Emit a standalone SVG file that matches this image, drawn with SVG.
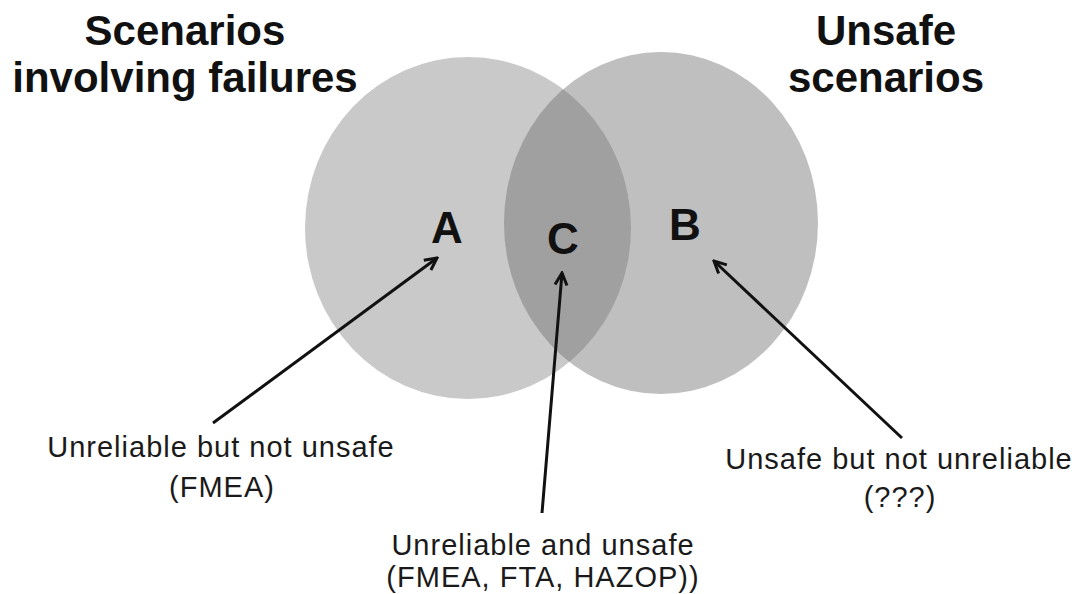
<svg xmlns="http://www.w3.org/2000/svg" width="1081" height="594" viewBox="0 0 1081 594">
  <style>
    .title { font-family: "Liberation Sans", Arial, sans-serif; font-weight: bold; font-size: 42px; fill: #111; text-anchor: middle; }
    .letter { font-family: "Liberation Sans", Arial, sans-serif; font-weight: bold; font-size: 44px; fill: #111; text-anchor: middle; }
    .label { font-family: "Liberation Sans", Arial, sans-serif; font-size: 29px; letter-spacing: 1px; fill: #1a1a1a; text-anchor: middle; }
    .conn { stroke: #111; stroke-width: 3; fill: none; marker-end: url(#arrow); }
  </style>
  <defs>
    <marker id="arrow" markerUnits="userSpaceOnUse" viewBox="0 0 16 16" markerWidth="16" markerHeight="16" refX="14" refY="8" orient="auto">
      <path d="M2,2 L14,8 L2,14" fill="none" stroke="#111" stroke-width="3" stroke-linejoin="miter"/>
    </marker>
    <clipPath id="leftClip">
      <ellipse cx="468" cy="228" rx="163" ry="171"/>
    </clipPath>
  </defs>
  <rect width="1081" height="594" fill="#ffffff"/>

  <g id="set-failures">
    <ellipse cx="468" cy="228" rx="163" ry="171" fill="#c9c9c9"/>
    <text class="title" x="185" y="45">Scenarios</text>
    <text class="title" x="185" y="92">involving failures</text>
  </g>
  <g id="set-unsafe">
    <ellipse cx="661" cy="223" rx="157" ry="171" fill="#bfbfbf"/>
    <text class="title" x="886" y="45">Unsafe</text>
    <text class="title" x="886" y="92">scenarios</text>
  </g>
  <g id="region-C-overlap">
    <ellipse cx="661" cy="223" rx="157" ry="171" fill="#a0a0a0" clip-path="url(#leftClip)"/>
  </g>

  <g id="node-A">
    <text class="letter" x="447" y="243">A</text>
  </g>
  <g id="node-C">
    <text class="letter" x="563" y="254">C</text>
  </g>
  <g id="node-B">
    <text class="letter" x="685" y="240">B</text>
  </g>

  <g id="label-A">
    <text class="label" x="221" y="457">Unreliable but not unsafe</text>
    <text class="label" x="222" y="497">(FMEA)</text>
  </g>
  <g id="label-C">
    <text class="label" x="543" y="555">Unreliable and unsafe</text>
    <text class="label" x="543" y="587">(FMEA, FTA, HAZOP))</text>
  </g>
  <g id="label-B">
    <text class="label" x="899" y="469">Unsafe but not unreliable</text>
    <text class="label" x="900" y="507">(???)</text>
  </g>

  <g id="connectors">
    <line class="conn" x1="213" y1="423" x2="437" y2="258"/>
    <line class="conn" x1="542" y1="513" x2="562" y2="273"/>
    <line class="conn" x1="902" y1="438" x2="714" y2="261"/>
  </g>
</svg>
